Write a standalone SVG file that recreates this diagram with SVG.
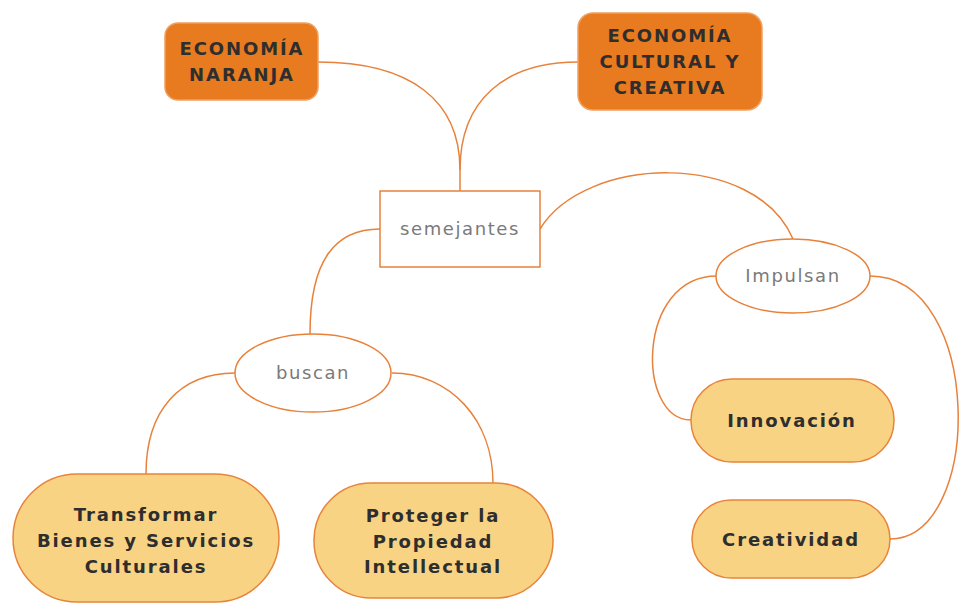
<svg xmlns="http://www.w3.org/2000/svg" width="959" height="603" viewBox="0 0 959 603">
<style>
.bg{fill:#ffffff}
.con path{fill:none;stroke:#E8813A;stroke-width:1.5}
.dark rect{fill:#E87A1F;stroke:#F0A060;stroke-width:1.5}
.light rect{fill:#F8D384;stroke:#E8843A;stroke-width:1.5}
.plain rect,.plain ellipse{fill:#ffffff;stroke:#E8813A;stroke-width:1.5}
.bt{font-family:"DejaVu Sans",Verdana,sans-serif;font-weight:bold;font-size:18px;fill:#2e2e2e;text-anchor:middle;letter-spacing:1.9px}
.gt{font-family:"DejaVu Sans",Verdana,sans-serif;font-size:18px;fill:#7a7a7a;text-anchor:middle;letter-spacing:1.6px}
</style>
<rect class="bg" x="0" y="0" width="959" height="603"/>
<g class="con" id="connectors">
<path d="M318,62 C410,62 460,100 460,170 L460,191"/>
<path d="M578,62 C505,62 460,100 460,170"/>
<path d="M380,229 C335,229 310,260 310,334"/>
<path d="M540,229 C585,155 755,150 793,239"/>
<path d="M235,373 C180,373 146,410 146,474"/>
<path d="M392,373 C450,373 493,420 493,483"/>
<path d="M717,276 C636,276 636,420 691,420"/>
<path d="M870,276 C984,276 984,539 890,539"/>
</g>
<g id="n-naranja" class="dark">
<rect x="165" y="23" width="153" height="77" rx="13"/>
<text class="bt" x="242" y="55">ECONOMÍA</text>
<text class="bt" x="242" y="81">NARANJA</text>
</g>
<g id="n-cultural" class="dark">
<rect x="578" y="13" width="184" height="97" rx="15"/>
<text class="bt" x="670" y="42">ECONOMÍA</text>
<text class="bt" x="670" y="68">CULTURAL Y</text>
<text class="bt" x="670" y="94">CREATIVA</text>
</g>
<g id="n-semejantes" class="plain">
<rect x="380" y="191" width="160" height="76"/>
<text class="gt" x="460" y="235">semejantes</text>
</g>
<g id="n-buscan" class="plain">
<ellipse cx="313" cy="373" rx="78" ry="39"/>
<text class="gt" x="313" y="379">buscan</text>
</g>
<g id="n-impulsan" class="plain">
<ellipse cx="793" cy="276" rx="77" ry="37"/>
<text class="gt" x="793" y="282">Impulsan</text>
</g>
<g id="n-transformar" class="light">
<rect x="13" y="474" width="266" height="128" rx="64"/>
<text class="bt" x="146" y="521">Transformar</text>
<text class="bt" x="146" y="547">Bienes y Servicios</text>
<text class="bt" x="146" y="573">Culturales</text>
</g>
<g id="n-proteger" class="light">
<rect x="314" y="483" width="239" height="115" rx="57"/>
<text class="bt" x="433" y="522">Proteger la</text>
<text class="bt" x="433" y="548">Propiedad</text>
<text class="bt" x="433" y="573">Intellectual</text>
</g>
<g id="n-innovacion" class="light">
<rect x="691" y="379" width="203" height="83" rx="41"/>
<text class="bt" x="792" y="427">Innovación</text>
</g>
<g id="n-creatividad" class="light">
<rect x="692" y="500" width="198" height="78" rx="39"/>
<text class="bt" x="791" y="546">Creatividad</text>
</g>
</svg>
